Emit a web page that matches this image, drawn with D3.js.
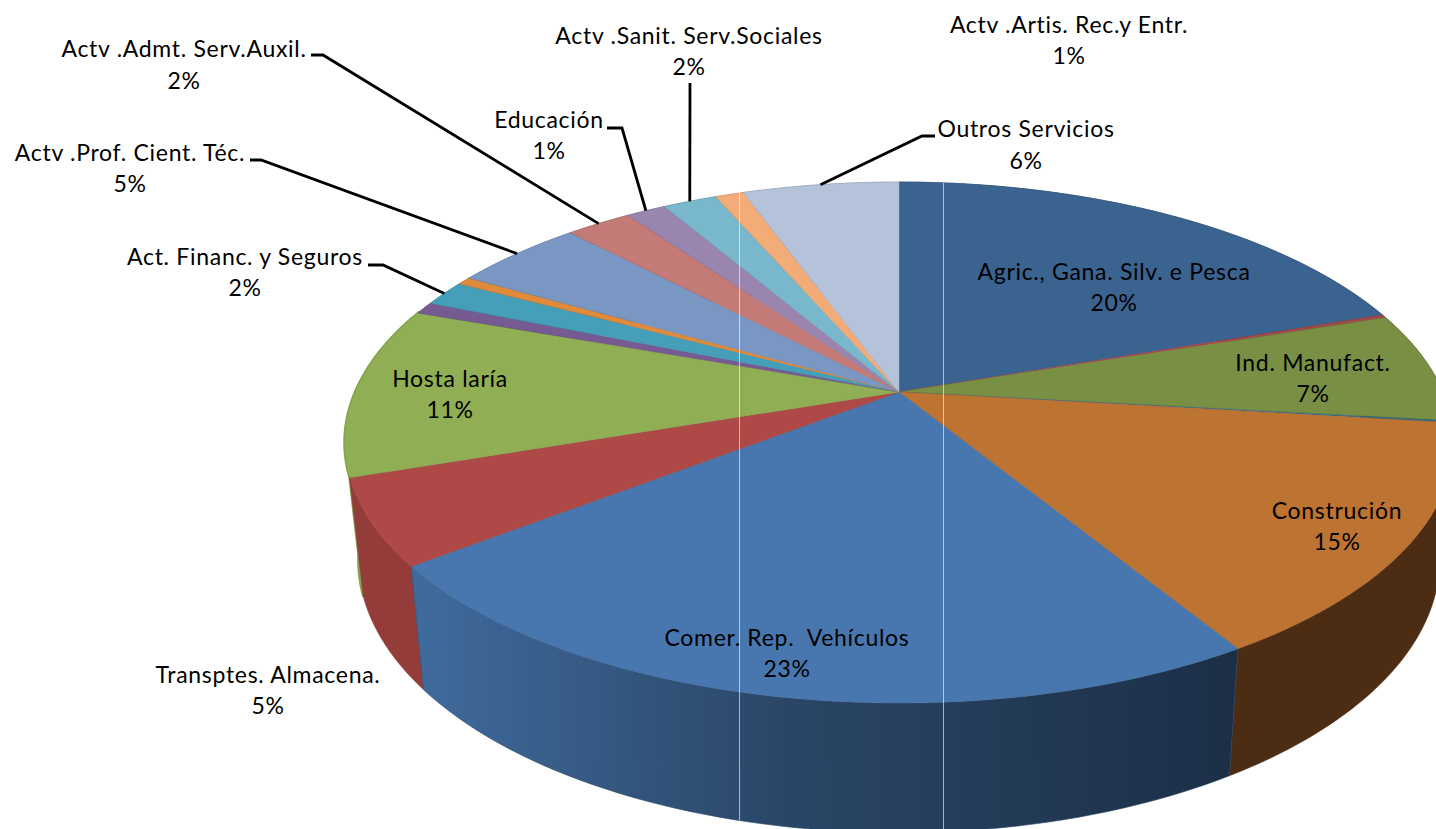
<!DOCTYPE html>
<html><head><meta charset="utf-8">
<script src="https://cdn.jsdelivr.net/npm/d3@7/dist/d3.min.js"></script>
<style>html,body{margin:0;padding:0;background:#fff;overflow:hidden}text{font-family:Lato,"Open Sans",sans-serif;fill:#000;white-space:pre;letter-spacing:0.7px}</style>
</head><body><svg id="c" width="1436" height="829"></svg>
<script>
// data
const categories = ["Agric., Gana. Silv. e Pesca","Ind. Extract.","Ind. Manufact.","Enerxía","Construción","Comer. Rep.  Vehículos","Transptes. Almacena.","Hosta laría","Información","Act. Financ. y Seguros","Act. Inmob.","Actv .Prof. Cient. Téc.","Actv .Admt. Serv.Auxil.","Educación","Actv .Sanit. Serv.Sociales","Actv .Artis. Rec.y Entr.","Outros Servicios"];
const values = [19.7,0.2,6.9,0.1,14.4,23.2,5.3,10.65,0.75,1.6,0.5,4.6,2.3,1.4,1.9,1.0,5.5];
const percentLabels = ["20%",null,"7%",null,"15%","23%","5%","11%",null,"2%",null,"5%","2%","1%","2%","1%","6%"];
// styles
const topColors = ["#3b6390","#a8474a","#788f44","#2f6f8f","#bd7332","#4877af","#ae4947","#90ae53","#765a92","#459fb9","#e08a3b","#7a97c3","#c47a76","#9a85ae","#79b7cc","#f3ab78","#b4c2da"];
const sideColors = ["#2a4666","#7a3230","#4c5e2a","#22506a","#4c2d14","url(#wall)","#933c3a","#86a34c","#54406a","#317388","#a0622a","#566c8d","#8c5755","#6e5f7d","#578493","#ad7a55","#808b9c"];
const sideStroke = ["#2a4666","#7a3230","#4c5e2a","#22506a","#4c2d14","#2a4666","#933c3a","#86a34c","#54406a","#317388","#a0622a","#566c8d","#8c5755","#6e5f7d","#578493","#ad7a55","#808b9c"];
// label layout: category, centre x, line-1 y, line-2 y, elbow points for the leader
const labelLayout = [
 [0,1114,271,302],[2,1313,362,393],[4,1337,510,541],[5,787,637,668],[6,268,674,705],[7,450,378,409],
 [9,245,256,287,[[383,265],[368,265]]],
 [11,130,152,183,[[261,160],[250,160]]],
 [12,184,48,80,[[323,55],[311,55]]],
 [13,549,119,150,[[622,128],[607,128]]],
 [14,689,35,66,[[690,83]]],
 [15,1069,24,55],
 [16,1026,128,160,[[922,136],[935,136]]]
];
const seams = [739,943];

const svg = d3.select("#c");
const cx=899, cy=392, shrink=0.975, drop=1.048, depth=114.7;
const rx=544, b=250.7, p=0.194;
const project = (a,r=1)=>{const X=r*Math.sin(a),Y=r*Math.cos(a),w=1+p*Y;return [cx+X*rx/w, cy-Y*b/w];};
const lower = ([x,y])=>[cx+(x-cx)*shrink, cy+(y-cy)*drop+depth];
const pie = d3.pie().value(d=>d).sort(null)(values);
const line = d3.line();
const rim = (s,e)=>d3.range(0,61).map(i=>project(s+(e-s)*i/60));
const midY = d=>project((d.startAngle+d.endAngle)/2)[1];

const defs = svg.append("defs");
const g = defs.append("linearGradient").attr("id","wall").attr("gradientUnits","userSpaceOnUse").attr("x1",425).attr("x2",1230).attr("y1",0).attr("y2",0);
[[0,"#3f6a9c"],[0.45,"#2a4666"],[1,"#1c2f47"]].forEach(([o,c])=>g.append("stop").attr("offset",o).attr("stop-color",c));

// walls, back to front
const order = pie.map((d,i)=>({d,i})).sort((A,B)=>midY(A.d)-midY(B.d));
svg.append("g").selectAll("path").data(order).join("path")
  .attr("d",({d})=>{const t=rim(d.startAngle,d.endAngle);return line(t.concat(t.slice().reverse().map(lower)))+"Z";})
  .attr("fill",({i})=>sideColors[i]).attr("stroke",({i})=>sideStroke[i]).attr("stroke-width",({i})=>i===7?2.4:0.6);
// top faces
svg.append("g").selectAll("path").data(pie).join("path")
  .attr("d",d=>line([[cx,cy]].concat(rim(d.startAngle,d.endAngle)))+"Z")
  .attr("fill",(d,i)=>topColors[i]).attr("stroke",(d,i)=>d3.color(topColors[i]).darker(0.3)).attr("stroke-width",0.5);
// seams
svg.append("g").selectAll("line").data(seams).join("line")
  .attr("x1",d=>d+0.5).attr("x2",d=>d+0.5)
  .attr("y1",d=>d<800?192:183).attr("y2",d=>d<800?820:829)
  .attr("stroke","#fff").attr("stroke-opacity",0.6);
// leaders
labelLayout.filter(l=>l[4]).forEach(l=>{
  const d=pie[l[0]];
  svg.append("path").attr("d",line([project((d.startAngle+d.endAngle)/2)].concat(l[4])))
    .attr("fill","none").attr("stroke","#000").attr("stroke-width",2.8);
});
// labels
labelLayout.forEach(l=>{
  const t=svg.append("g").attr("text-anchor","middle").attr("font-size",23);
  t.append("text").attr("x",l[1]).attr("y",l[2]).attr("dominant-baseline","central").text(categories[l[0]]);
  t.append("text").attr("x",l[1]).attr("y",l[3]).attr("dominant-baseline","central").text(percentLabels[l[0]]);
});
</script></body></html>
